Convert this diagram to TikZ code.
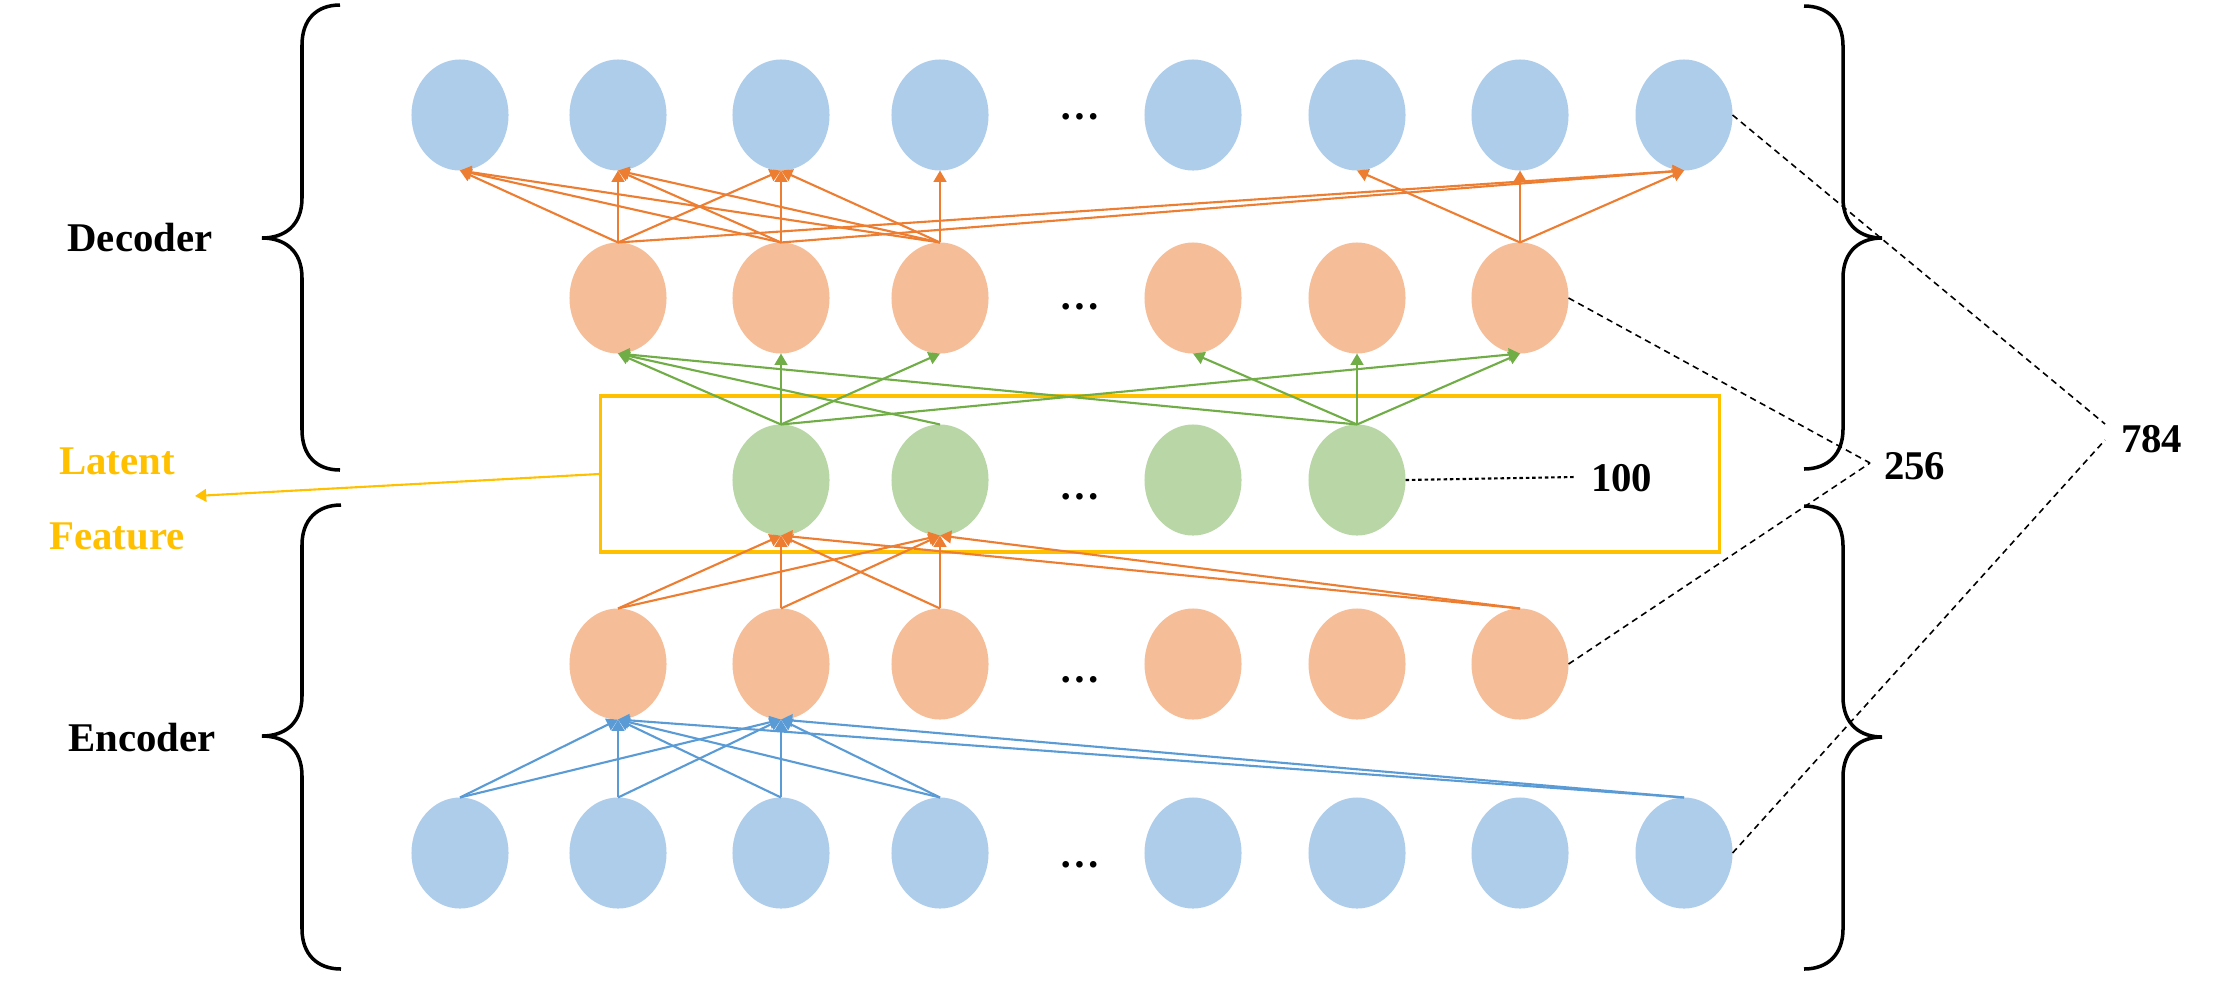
\documentclass[tikz,border=0pt]{standalone}
\usepackage{fontspec}
\setmainfont{Liberation Serif}
\usetikzlibrary{arrows.meta,shapes.geometric}
\definecolor{nblue}{HTML}{AECDEA}
\definecolor{norange}{HTML}{F5BE98}
\definecolor{ngreen}{HTML}{B9D6A6}
\definecolor{ablue}{HTML}{5B9BD5}
\definecolor{aorange}{HTML}{ED7D31}
\definecolor{agreen}{HTML}{70AD47}
\definecolor{latent}{HTML}{FFC000}
\begin{document}
\begin{tikzpicture}[x=0.01cm,y=-0.01cm,
  neuron/.style={ellipse,inner sep=0pt,outer sep=0pt,minimum width=0.97cm,minimum height=1.11cm},
  bneuron/.style={neuron,fill=nblue},
  oneuron/.style={neuron,fill=norange},
  gneuron/.style={neuron,fill=ngreen},
  conn/.style={line width=0.6pt,-{Triangle[length=3.2pt,width=3.6pt]}},
  bconn/.style={conn,color=ablue},
  oconn/.style={conn,color=aorange},
  gconn/.style={conn,color=agreen},
  lconn/.style={conn,color=latent},
  txt/.style={font=\fontsize{11.6}{13}\selectfont\bfseries,inner sep=0pt,outer sep=0pt},
  dotsnode/.style={txt,anchor=base},
  curly/.style={line width=1pt,black},
  guide/.style={black,line width=0.45pt,dash pattern=on 1.8pt off 1.3pt},
  dotted guide/.style={black,line width=0.6pt,dash pattern=on 1pt off 0.8pt},
  latentbox/.style={draw=latent,line width=1pt,inner sep=0pt,minimum width=11.18cm,minimum height=1.56cm}
]
\useasboundingbox (0,0) rectangle (2219,981);

% layers
\foreach \x [count=\i] in {460,618,781,940,1193,1357,1520,1684}
  \node[bneuron] (T\i) at (\x,115) {};
\foreach \x [count=\i] in {618,781,940,1193,1357,1520}
  \node[oneuron] (D\i) at (\x,298) {};
\node[latentbox] (box) at (1160,474) {};
\foreach \x [count=\i] in {781,940,1193,1357}
  \node[gneuron] (G\i) at (\x,480) {};
\foreach \x [count=\i] in {618,781,940,1193,1357,1520}
  \node[oneuron] (H\i) at (\x,664) {};
\foreach \x [count=\i] in {460,618,781,940,1193,1357,1520,1684}
  \node[bneuron] (B\i) at (\x,853) {};

% ellipsis marks
\node[dotsnode] (dT) at (1080,119) {…};
\node[dotsnode] (dD) at (1080,309) {…};
\node[dotsnode] (dG) at (1080,499) {…};
\node[dotsnode] (dH) at (1080,682) {…};
\node[dotsnode] (dB) at (1080,867) {…};

% connections
\foreach \s in {1,2,3,4,8}
  \foreach \t in {1,2}
    \draw[bconn] (B\s.north) -- (H\t.south);
\foreach \s in {1,2,3,6}
  \foreach \t in {1,2}
    \draw[oconn] (H\s.north) -- (G\t.south);
\foreach \s/\t in {1/1,1/2,1/3,1/6,2/1,4/1,4/4,4/5,4/6}
  \draw[gconn] (G\s.north) -- (D\t.south);
\foreach \s/\t in {1/1,1/2,1/3,1/8,2/1,2/2,2/3,2/8,3/1,3/2,3/3,3/4,6/6,6/7,6/8}
  \draw[oconn] (D\s.north) -- (T\t.south);

% labels
\node[txt,anchor=base] (dec) at (140,251) {Decoder};
\node[txt,anchor=base] (enc) at (142,751) {Encoder};
\node[txt,anchor=base,text=latent] (lat) at (117,474) {Latent};
\node[txt,anchor=base,text=latent] (feat) at (117,549) {Feature};
\node[txt,anchor=base west] (n100) at (1591,491) {100};
\node[txt,anchor=base west] (n256) at (1884,479) {256};
\node[txt,anchor=base west] (n784) at (2121,452) {784};

% latent arrow
\coordinate (lf) at (195,496);
\draw[lconn] (box.west) -- (lf);

% guide lines
\coordinate (c100) at (1575,477);
\coordinate (c256) at (1870,463);
\coordinate (c784a) at (2105,424);
\coordinate (c784b) at (2105,440);
\draw[dotted guide] (G4.east) -- (c100);
\draw[guide] (D6.east) -- (c256);
\draw[guide] (H6.east) -- (c256);
\draw[guide] (T8.east) -- (c784a);
\draw[guide] (B8.east) -- (c784b);

% braces
\draw[curly] (340,5) .. controls (316,5) and (302,20) .. (302,45) -- (302,198)
  .. controls (302,226) and (284,238) .. (262,238)
  .. controls (284,238) and (302,250) .. (302,278) -- (302,430)
  .. controls (302,455) and (316,470) .. (340,470);
\draw[curly] (341,505) .. controls (317,505) and (302,520) .. (302,545) -- (302,696)
  .. controls (302,724) and (284,736) .. (262,736)
  .. controls (284,736) and (302,748) .. (302,776) -- (302,929)
  .. controls (302,954) and (317,969) .. (341,969);
\draw[curly] (1804,6) .. controls (1828,6) and (1843,21) .. (1843,46) -- (1843,198)
  .. controls (1843,226) and (1861,238) .. (1882,238)
  .. controls (1861,238) and (1843,250) .. (1843,278) -- (1843,429)
  .. controls (1843,454) and (1828,469) .. (1804,469);
\draw[curly] (1804,506) .. controls (1828,506) and (1843,521) .. (1843,546) -- (1843,697)
  .. controls (1843,725) and (1861,737) .. (1882,737)
  .. controls (1861,737) and (1843,749) .. (1843,777) -- (1843,929)
  .. controls (1843,954) and (1828,969) .. (1804,969);
\end{tikzpicture}
\end{document}
